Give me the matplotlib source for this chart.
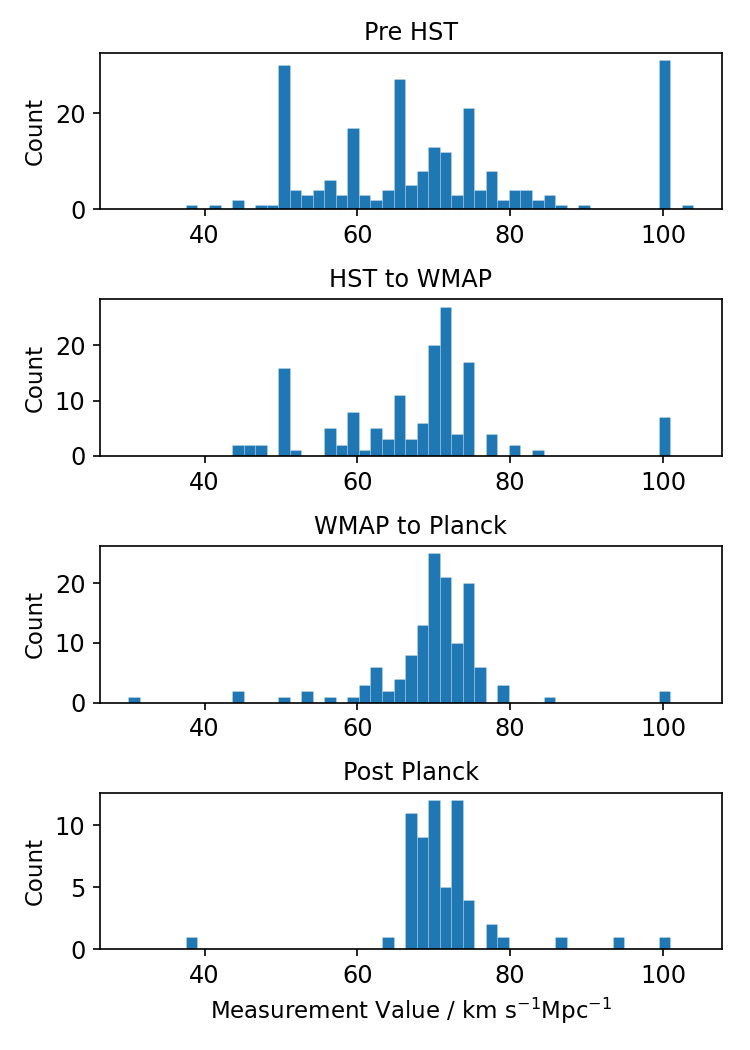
import numpy as np
import matplotlib
matplotlib.use("Agg")
import matplotlib.pyplot as plt

# histogram bins: 49 equal bins between 30 and 104 km/s/Mpc
edges = np.linspace(30, 104, 50)
centres = (edges[:-1] + edges[1:]) / 2

titles = ["Pre HST", "HST to WMAP", "WMAP to Planck", "Post Planck"]

# counts per bin, {bin index: count}
pre_hst = {5: 1, 7: 1, 9: 2, 11: 1, 12: 1, 13: 30, 14: 4, 15: 3, 16: 4, 17: 6,
           18: 3, 19: 17, 20: 3, 21: 2, 22: 4, 23: 27, 24: 5, 25: 8, 26: 13,
           27: 12, 28: 3, 29: 21, 30: 4, 31: 8, 32: 2, 33: 4, 34: 4, 35: 2,
           36: 3, 37: 1, 39: 1, 46: 31, 48: 1}
hst_wmap = {9: 2, 10: 2, 11: 2, 13: 16, 14: 1, 17: 5, 18: 2, 19: 8, 20: 1,
            21: 5, 22: 3, 23: 11, 24: 3, 25: 6, 26: 20, 27: 27, 28: 4, 29: 17,
            31: 4, 33: 2, 35: 1, 46: 7}
wmap_planck = {0: 1, 9: 2, 13: 1, 15: 2, 17: 1, 19: 1, 20: 3, 21: 6, 22: 2,
               23: 4, 24: 8, 25: 13, 26: 25, 27: 21, 28: 10, 29: 20, 30: 6,
               32: 3, 36: 1, 46: 2}
post_planck = {5: 1, 22: 1, 24: 11, 25: 9, 26: 12, 27: 5, 28: 12, 29: 4,
               31: 2, 32: 1, 37: 1, 42: 1, 46: 1}

yticks = [[0, 20], [0, 10, 20], [0, 10, 20], [0, 5, 10]]


def to_weights(d):
    w = np.zeros(len(centres))
    for k, v in d.items():
        w[k] = v
    return w


fig, axes = plt.subplots(4, 1, figsize=(5, 7), dpi=150)
fig.subplots_adjust(left=0.1333, right=0.9623, top=0.9498, bottom=0.0959,
                    hspace=0.575)

for ax, title, data, yt in zip(axes, titles,
                               [pre_hst, hst_wmap, wmap_planck, post_planck],
                               yticks):
    ax.hist(centres, bins=edges, weights=to_weights(data), color="#1f77b4",
            edgecolor=(1, 1, 1, 0.25), linewidth=0.4)
    ax.set_title(title, fontsize=11.5)
    ax.set_ylabel("Count", fontsize=11)
    ax.set_yticks(yt)
    ax.set_xticks([40, 60, 80, 100])
    ax.tick_params(labelsize=11.5)

axes[-1].set_xlabel(r"Measurement Value / km s$^{-1}$Mpc$^{-1}$", fontsize=11)

fig.savefig("out.png", dpi=150)
